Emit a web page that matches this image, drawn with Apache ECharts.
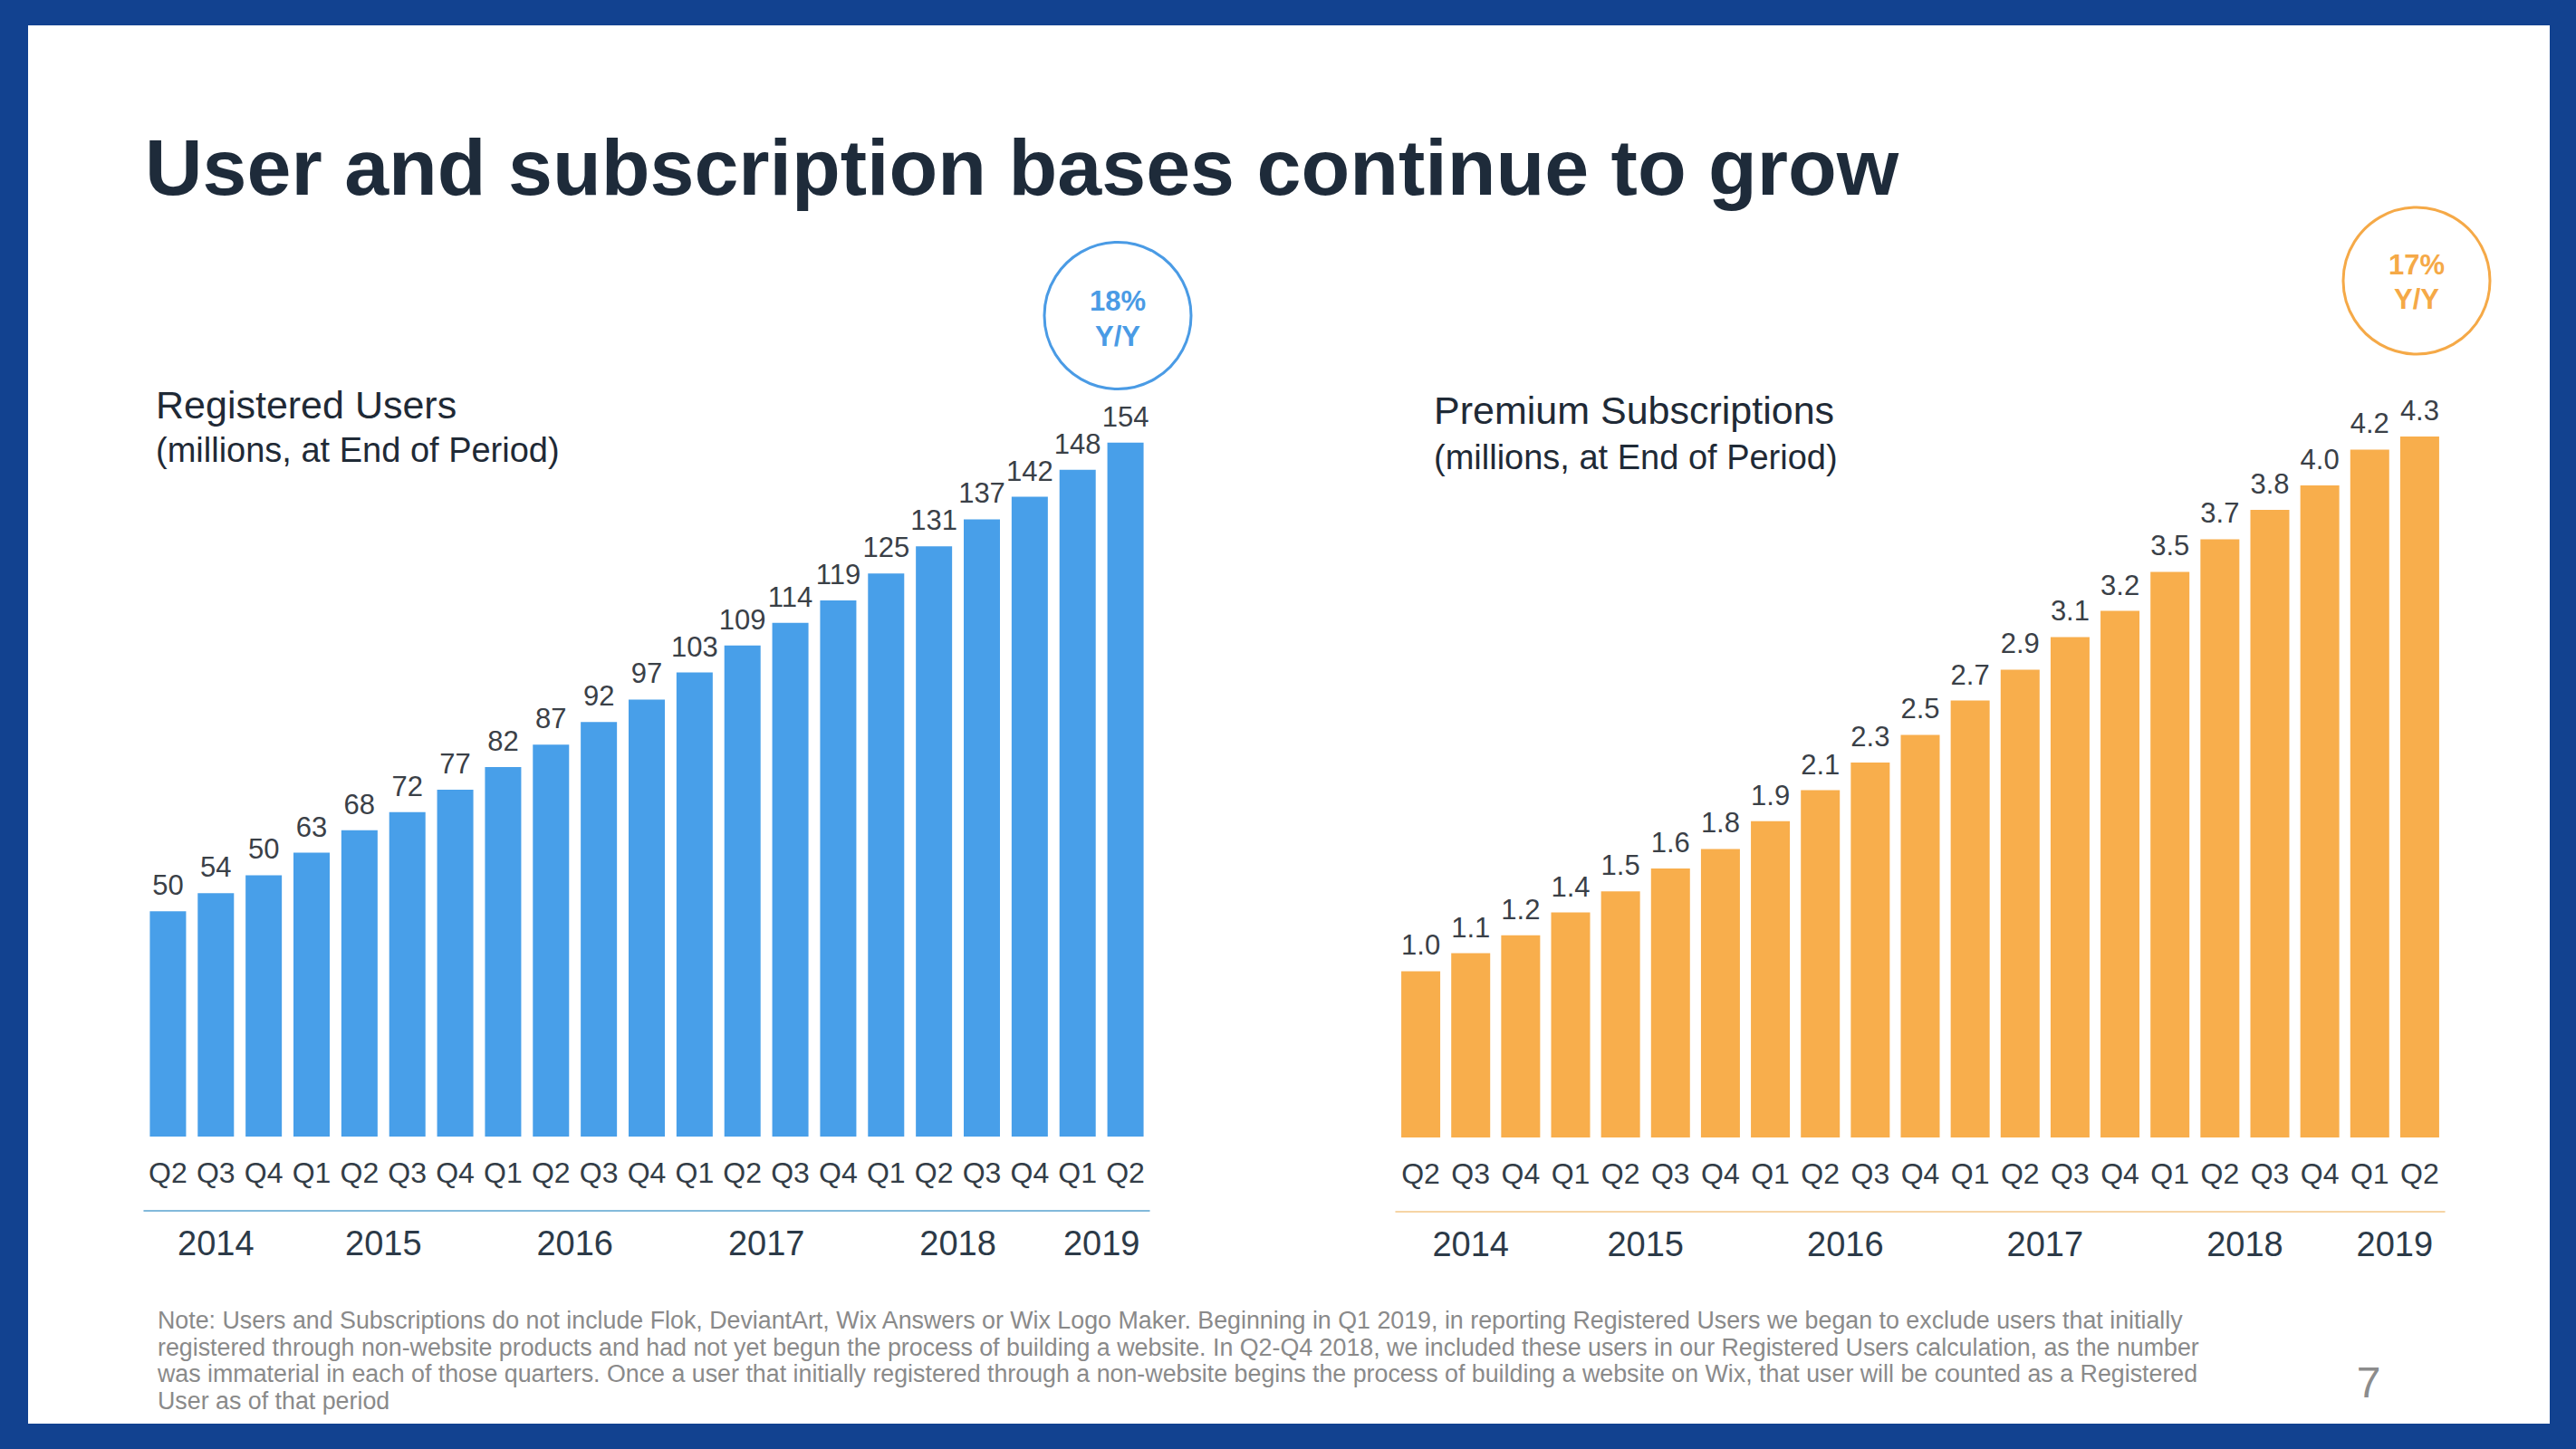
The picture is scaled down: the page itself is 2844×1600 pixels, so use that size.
<!DOCTYPE html>
<html><head><meta charset="utf-8">
<script src="https://cdn.jsdelivr.net/npm/echarts@6/dist/echarts.min.js"></script>
<style>html,body{margin:0;padding:0;background:#fff;} #c{width:2844px;height:1600px;}</style>
</head><body><div id="c"></div>
<script>
// ---------- data ----------
const quarters = ['Q2','Q3','Q4','Q1','Q2','Q3','Q4','Q1','Q2','Q3','Q4','Q1','Q2','Q3','Q4','Q1','Q2','Q3','Q4','Q1','Q2'];
const quarterYears = [2014,2014,2014,2015,2015,2015,2015,2016,2016,2016,2016,2017,2017,2017,2017,2018,2018,2018,2018,2019,2019];
const years = ['2014','2015','2016','2017','2018','2019'];
const registeredUsers = [50,54,58,63,68,72,77,82,87,92,97,103,109,114,119,125,131,137,142,148,154];
const registeredUsersLabels = ['50','54','50','63','68','72','77','82','87','92','97','103','109','114','119','125','131','137','142','148','154'];
const premiumSubs = [1.02,1.13,1.24,1.38,1.51,1.65,1.77,1.94,2.13,2.30,2.47,2.68,2.87,3.07,3.23,3.47,3.67,3.85,4.00,4.22,4.30];
const premiumSubsLabels = ['1.0','1.1','1.2','1.4','1.5','1.6','1.8','1.9','2.1','2.3','2.5','2.7','2.9','3.1','3.2','3.5','3.7','3.8','4.0','4.2','4.3'];
const titleText = 'User and subscription bases continue to grow';
const leftTitle = 'Registered Users';
const rightTitle = 'Premium Subscriptions';
const unitText = '(millions, at End of Period)';
const leftGrowth = ['18%', 'Y/Y'];
const rightGrowth = ['17%', 'Y/Y'];
const footnote = [
  'Note: Users and Subscriptions do not include Flok, DeviantArt, Wix Answers or Wix Logo Maker. Beginning in Q1 2019, in reporting Registered Users we began to exclude users that initially',
  'registered through non-website products and had not yet begun the process of building a website. In Q2-Q4 2018, we included these users in our Registered Users calculation, as the number',
  'was immaterial in each of those quarters. Once a user that initially registered through a non-website begins the process of building a website on Wix, that user will be counted as a Registered',
  'User as of that period'
];
const pageNumber = '7';

// ---------- helpers ----------
const FONT = '"Liberation Sans", Arial, Helvetica, sans-serif';
const BLUE = '#489FE9', ORANGE = '#F8AE4C', FRAME = '#124290';

// year axis: half-step slots so a year label sits at the centre of its quarters
function yearSlots() {
  const slots = new Array(quarters.length * 2 + 1).fill('');
  years.forEach(y => {
    const idx = quarterYears.map((v, i) => String(v) === y ? i : -1).filter(i => i >= 0);
    const mean = idx.reduce((a, b) => a + b, 0) / idx.length;
    slots[Math.round(2 * mean + 1)] = y;
  });
  return slots;
}
const slots = yearSlots();

function quarterAxis(g) {
  return {
    gridIndex: g, type: 'category', data: quarters,
    axisLine: { show: false }, axisTick: { show: false }, splitLine: { show: false },
    axisLabel: { interval: 0, margin: 24, fontSize: 32, color: '#333d47', fontFamily: FONT }
  };
}
function yearAxis(g, lineColor, offset) {
  return {
    gridIndex: g, type: 'category', data: slots, boundaryGap: false, position: 'bottom', offset: offset,
    axisLine: { show: true, lineStyle: { color: lineColor, width: 1.5 } },
    axisTick: { show: false }, splitLine: { show: false },
    axisLabel: { interval: 0, margin: 17, fontSize: 38, color: '#2c3a48', fontFamily: FONT,
                 showMinLabel: true, showMaxLabel: true, hideOverlap: false }
  };
}
function txt(x, y, text, font, fill, align) {
  return { type: 'text', x: x, y: y, z: 10,
    style: { text: text, font: font, fill: fill, textAlign: align || 'left', textVerticalAlign: 'middle' } };
}

const chart = echarts.init(document.getElementById('c'), null, { renderer: 'svg' });
chart.setOption({
  backgroundColor: '#ffffff',
  animation: false,
  grid: [
    { left: 159, top: 459, width: 1110, height: 796 },
    { left: 1541, top: 446, width: 1158, height: 810 }
  ],
  xAxis: [
    quarterAxis(0), yearAxis(0, '#5AA3CF', 82),
    quarterAxis(1), yearAxis(1, '#F3C788', 82)
  ],
  yAxis: [
    { gridIndex: 0, type: 'value', min: 0, max: 160, show: false },
    { gridIndex: 1, type: 'value', min: 0, max: 4.5, show: false }
  ],
  series: [
    { type: 'bar', xAxisIndex: 0, yAxisIndex: 0, data: registeredUsers, barWidth: 40,
      itemStyle: { color: BLUE },
      label: { show: true, position: 'top', distance: 13, fontSize: 31, color: '#3a4047', fontFamily: FONT,
               formatter: p => registeredUsersLabels[p.dataIndex] } },
    { type: 'bar', xAxisIndex: 2, yAxisIndex: 1, data: premiumSubs, barWidth: 43,
      itemStyle: { color: ORANGE },
      label: { show: true, position: 'top', distance: 13, fontSize: 31, color: '#3a4047', fontFamily: FONT,
               formatter: p => premiumSubsLabels[p.dataIndex] } }
  ],
  graphic: [
    txt(160, 184, titleText, 'bold 88px ' + FONT, '#1e2b3a'),
    txt(172, 447, leftTitle, '43px ' + FONT, '#1f2a36'),
    txt(172, 497, unitText, '38px ' + FONT, '#1f2a36'),
    txt(1583, 453, rightTitle, '43px ' + FONT, '#1f2a36'),
    txt(1583, 505, unitText, '38px ' + FONT, '#1f2a36'),
    { type: 'circle', z: 10, shape: { cx: 1234, cy: 348.5, r: 81 }, style: { fill: 'none', stroke: '#4A9BE5', lineWidth: 3 } },
    txt(1234, 332, leftGrowth[0], 'bold 31px ' + FONT, '#4A9BE5', 'center'),
    txt(1234, 371, leftGrowth[1], 'bold 31px ' + FONT, '#4A9BE5', 'center'),
    { type: 'circle', z: 10, shape: { cx: 2668, cy: 310, r: 81 }, style: { fill: 'none', stroke: '#F5A947', lineWidth: 3 } },
    txt(2668, 292, rightGrowth[0], 'bold 31px ' + FONT, '#F5A947', 'center'),
    txt(2668, 330, rightGrowth[1], 'bold 31px ' + FONT, '#F5A947', 'center'),
    txt(174, 1458, footnote[0], '26.8px ' + FONT, '#8a8a8a'),
    txt(174, 1488, footnote[1], '26.8px ' + FONT, '#8a8a8a'),
    txt(174, 1517, footnote[2], '26.8px ' + FONT, '#8a8a8a'),
    txt(174, 1547, footnote[3], '26.8px ' + FONT, '#8a8a8a'),
    txt(2615, 1526, pageNumber, '48px ' + FONT, '#8c8c8c', 'center'),
    { type: 'rect', z: 20, shape: { x: 0, y: 0, width: 2844, height: 28 }, style: { fill: FRAME } },
    { type: 'rect', z: 20, shape: { x: 0, y: 1572, width: 2844, height: 28 }, style: { fill: FRAME } },
    { type: 'rect', z: 20, shape: { x: 0, y: 0, width: 31, height: 1600 }, style: { fill: FRAME } },
    { type: 'rect', z: 20, shape: { x: 2815, y: 0, width: 29, height: 1600 }, style: { fill: FRAME } }
  ]
});
</script>
</body></html>
